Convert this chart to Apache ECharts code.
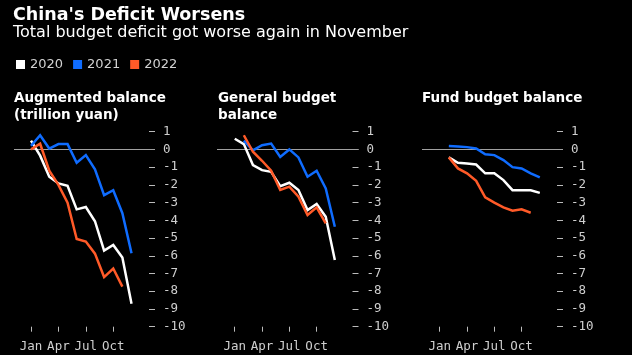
<!DOCTYPE html>
<html>
<head>
<meta charset="utf-8">
<script src="https://cdn.jsdelivr.net/npm/echarts@6/dist/echarts.min.js"></script>
<style>
  html, body { margin: 0; padding: 0; background: #000; }
  #chart { width: 632px; height: 355px; }
</style>
</head>
<body>
<div id="chart"></div>
<script>
const months = ['Jan','Feb','Mar','Apr','May','Jun','Jul','Aug','Sep','Oct','Nov','Dec'];
const years = ['2020','2021','2022'];
const xTickMonths = [0,3,6,9];

// Augmented balance (trillion yuan)
const aug2020 = [0.5, -0.35, -1.54, -1.92, -2.05, -3.38, -3.25, -4.05, -5.71, -5.39, -6.1, -8.7];
const aug2021 = [0.2, 0.8, 0.05, 0.3, 0.3, -0.75, -0.32, -1.12, -2.58, -2.3, -3.6, -5.86];
const aug2022 = [0.0, 0.32, -1.2, -2.0, -3.0, -5.05, -5.2, -5.88, -7.2, -6.72, -7.74, null];

// General budget balance
const gen2020 = [0.6, 0.3, -0.88, -1.17, -1.26, -2.07, -1.88, -2.29, -3.42, -3.08, -3.8, -6.24];
const gen2021 = [null, 0.5, -0.05, 0.24, 0.33, -0.42, 0.0, -0.45, -1.54, -1.2, -2.2, -4.36];
const gen2022 = [null, 0.8, -0.13, -0.64, -1.2, -2.29, -2.1, -2.67, -3.7, -3.27, -4.17, null];

// Fund budget balance
const fund2020 = [null, -0.45, -0.75, -0.8, -0.85, -1.35, -1.35, -1.73, -2.3, -2.3, -2.3, -2.45];
const fund2021 = [null, 0.2, 0.17, 0.13, 0.05, -0.27, -0.32, -0.6, -1.0, -1.07, -1.35, -1.58];
const fund2022 = [null, -0.45, -1.07, -1.35, -1.77, -2.7, -3.0, -3.27, -3.46, -3.38, -3.57, null];

const panelTitles = ['Augmented balance\n(trillion yuan)', 'General budget\nbalance', 'Fund budget balance'];
const panelData = [
  [aug2020, aug2021, aug2022],
  [gen2020, gen2021, gen2022],
  [fund2020, fund2021, fund2022]
];

const colors = ['#ffffff', '#0f6cff', '#ff5a28'];
const labelColor = '#cfcfcf';
const monoFont = 'DejaVu Sans Mono';

const grids = [
  { left: 14, width: 141, top: 131.7, height: 195 },
  { left: 217, width: 141.5, top: 131.7, height: 195 },
  { left: 422, width: 141, top: 131.7, height: 195 }
];
const xRanges = [
  { min: -1.86, max: 13.57 },
  { min: -1.95, max: 13.6 },
  { min: -1.95, max: 13.55 }
];

const chart = echarts.init(document.getElementById('chart'), null, { renderer: 'canvas' });

const xAxes = grids.map((g, i) => ({
  type: 'value',
  gridIndex: i,
  position: 'bottom',
  min: xRanges[i].min,
  max: xRanges[i].max,
  axisLine: { show: false, onZero: false },
  splitLine: { show: false },
  axisTick: { show: true, length: 5, lineStyle: { color: '#bbbbbb', width: 1 }, customValues: xTickMonths },
  axisLabel: {
    customValues: xTickMonths,
    color: labelColor, fontFamily: monoFont, fontSize: 12.5, margin: 14,
    formatter: v => months[Math.round(v)] || ''
  }
}));

const yAxes = grids.map((g, i) => ({
  type: 'value',
  gridIndex: i,
  position: 'right',
  min: -10, max: 1, interval: 1,
  axisLine: { show: false, onZero: false },
  splitLine: { show: false },
  axisTick: { show: true, inside: true, length: 6, lineStyle: { color: '#bbbbbb', width: 1 } },
  axisLabel: { color: labelColor, fontFamily: monoFont, fontSize: 12.5, margin: 8, align: 'left' }
}));

const series = [];
panelData.forEach((arrs, p) => {
  arrs.forEach((arr, k) => {
    const s = {
      name: years[k],
      type: 'line',
      xAxisIndex: p,
      yAxisIndex: p,
      data: arr.map((v, m) => [m, v]).filter(d => d[1] !== null),
      showSymbol: false,
      symbol: 'none',
      lineStyle: { color: colors[k], width: 2.5, join: 'miter' },
      itemStyle: { color: colors[k] },
      z: 3 + k,
      silent: true,
      animation: false
    };
    if (k === 0) {
      s.markLine = {
        silent: true,
        symbol: 'none',
        label: { show: false },
        lineStyle: { color: '#a0a0a0', width: 1, type: 'solid' },
        data: [{ yAxis: 0 }],
        animation: false,
        z: 1
      };
    }
    series.push(s);
  });
});

const titles = [
  { text: "China's Deficit Worsens", left: 13, top: 6,
    textStyle: { color: '#ffffff', fontFamily: 'DejaVu Sans', fontWeight: 'bold', fontSize: 17.5 } },
  { text: 'Total budget deficit got worse again in November', left: 13, top: 25,
    textStyle: { color: '#ffffff', fontFamily: 'DejaVu Sans', fontWeight: 'normal', fontSize: 16 } }
];
const panelTitleLeft = [14, 218, 422];
panelTitles.forEach((t, i) => {
  titles.push({
    text: t, left: panelTitleLeft[i], top: 90,
    textStyle: { color: '#ffffff', fontFamily: 'DejaVu Sans', fontWeight: 'bold', fontSize: 13.5, lineHeight: 17 }
  });
});

chart.setOption({
  backgroundColor: '#000000',
  animation: false,
  title: titles.map(t => Object.assign({ padding: 0 }, t)),
  legend: {
    data: years,
    left: 16, top: 58,
    icon: 'rect',
    itemWidth: 9, itemHeight: 9,
    itemGap: 10,
    padding: 0,
    textStyle: { color: '#d2d2d2', fontFamily: 'DejaVu Sans', fontSize: 13 },
    selectedMode: false
  },
  grid: grids.map(g => Object.assign({ containLabel: false }, g)),
  xAxis: xAxes,
  yAxis: yAxes,
  series: series
});
</script>
</body>
</html>
